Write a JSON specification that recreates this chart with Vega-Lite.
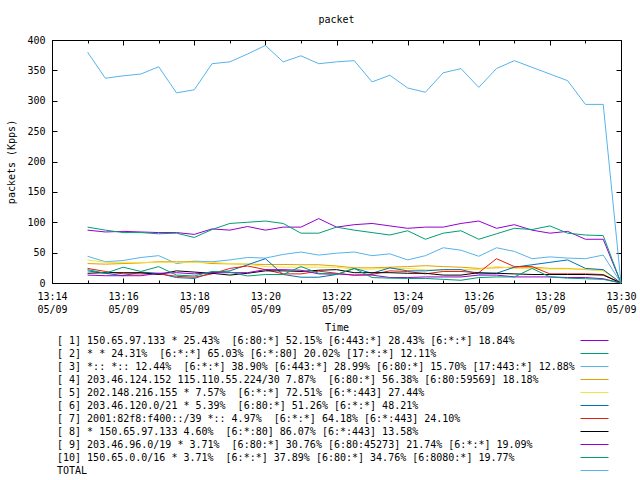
{
  "$schema": "https://vega.github.io/schema/vega-lite/v6.json",
  "width": 569,
  "height": 243,
  "autosize": {"type": "none"},
  "padding": {"left": 52, "top": 40, "right": 19, "bottom": 197},
  "background": "white",
  "config": {
    "font": "DejaVu Sans Mono",
    "view": {"stroke": "black", "strokeWidth": 1},
    "axis": {
      "labelFont": "DejaVu Sans Mono", "labelFontSize": 10, "labelColor": "black",
      "titleFont": "DejaVu Sans Mono", "titleFontSize": 10, "titleFontWeight": "normal", "titleColor": "black",
      "domainColor": "black", "tickColor": "black", "grid": false, "tickSize": -5, "labelPadding": 12
    }
  },
  "title": {"text": "packet", "frame": "group", "anchor": "middle", "offset": 10, "fontSize": 10, "fontWeight": "normal", "font": "DejaVu Sans Mono", "color": "black"},
  "datasets": {
    "d": [
      {"t":"2013-05-09T13:15:00","s1":87,"s2":92,"s3":44,"s4":32,"s5":38,"s6":20,"s7":24,"s8":16,"s9":13,"s10":22,"total":380},
      {"t":"2013-05-09T13:15:30","s1":84,"s2":87,"s3":35,"s4":31,"s5":34,"s6":16,"s7":19,"s8":17,"s9":12,"s10":16,"total":337},
      {"t":"2013-05-09T13:16:00","s1":85,"s2":83,"s3":37,"s4":32,"s5":34,"s6":12,"s7":15,"s8":17,"s9":12,"s10":26,"total":341},
      {"t":"2013-05-09T13:16:30","s1":84,"s2":83,"s3":42,"s4":33,"s5":34,"s6":18,"s7":15,"s8":17,"s9":12,"s10":19,"total":344},
      {"t":"2013-05-09T13:17:00","s1":83,"s2":81,"s3":45,"s4":35,"s5":34,"s6":16,"s7":15,"s8":14,"s9":16,"s10":27,"total":356},
      {"t":"2013-05-09T13:17:30","s1":83,"s2":82,"s3":32,"s4":35,"s5":34,"s6":9,"s7":11,"s8":20,"s9":17,"s10":13,"total":313},
      {"t":"2013-05-09T13:18:00","s1":80,"s2":75,"s3":36,"s4":35,"s5":34,"s6":7.5,"s7":9.5,"s8":18,"s9":15,"s10":11.5,"total":318},
      {"t":"2013-05-09T13:18:30","s1":89,"s2":88,"s3":35,"s4":32,"s5":34,"s6":17,"s7":15,"s8":16,"s9":17,"s10":19,"total":361},
      {"t":"2013-05-09T13:19:00","s1":87,"s2":98,"s3":38,"s4":31.5,"s5":32,"s6":20,"s7":24,"s8":13,"s9":17,"s10":18,"total":364},
      {"t":"2013-05-09T13:19:30","s1":93,"s2":100,"s3":42,"s4":31,"s5":31,"s6":30,"s7":28,"s8":16,"s9":17,"s10":11.5,"total":377},
      {"t":"2013-05-09T13:20:00","s1":87,"s2":102,"s3":41,"s4":30.5,"s5":27,"s6":40,"s7":22,"s8":20,"s9":22,"s10":14,"total":391},
      {"t":"2013-05-09T13:20:30","s1":92,"s2":98,"s3":47,"s4":30.5,"s5":26,"s6":14,"s7":15,"s8":20,"s9":22,"s10":14,"total":364},
      {"t":"2013-05-09T13:21:00","s1":92,"s2":82,"s3":51,"s4":30,"s5":26,"s6":9.5,"s7":15,"s8":19,"s9":21,"s10":27,"total":374},
      {"t":"2013-05-09T13:21:30","s1":106,"s2":82,"s3":46,"s4":30,"s5":26,"s6":9.5,"s7":19.5,"s8":21,"s9":15,"s10":16,"total":361},
      {"t":"2013-05-09T13:22:00","s1":92,"s2":92,"s3":49,"s4":28,"s5":26,"s6":14,"s7":16,"s8":22,"s9":15,"s10":14,"total":364},
      {"t":"2013-05-09T13:22:30","s1":96,"s2":87,"s3":51,"s4":25,"s5":22.5,"s6":24,"s7":13,"s8":17,"s9":13,"s10":24,"total":366},
      {"t":"2013-05-09T13:23:00","s1":98,"s2":83,"s3":45,"s4":25,"s5":23,"s6":16,"s7":14,"s8":17,"s9":13,"s10":9,"total":331},
      {"t":"2013-05-09T13:23:30","s1":94,"s2":79,"s3":48,"s4":26,"s5":24,"s6":25,"s7":20,"s8":17,"s9":9,"s10":8,"total":342},
      {"t":"2013-05-09T13:24:00","s1":90,"s2":86,"s3":38,"s4":27,"s5":24,"s6":20,"s7":19,"s8":16,"s9":9,"s10":7.5,"total":321},
      {"t":"2013-05-09T13:24:30","s1":92,"s2":72,"s3":45,"s4":28.5,"s5":21.5,"s6":20,"s7":15,"s8":16,"s9":10,"s10":7.5,"total":314},
      {"t":"2013-05-09T13:25:00","s1":92,"s2":82,"s3":58,"s4":27,"s5":21.5,"s6":22,"s7":19,"s8":13,"s9":10,"s10":6,"total":346},
      {"t":"2013-05-09T13:25:30","s1":98,"s2":86,"s3":54,"s4":26,"s5":22,"s6":22,"s7":19,"s8":13,"s9":10,"s10":4.5,"total":353},
      {"t":"2013-05-09T13:26:00","s1":102,"s2":72,"s3":44,"s4":24,"s5":22.5,"s6":15,"s7":17,"s8":17,"s9":13,"s10":9,"total":322},
      {"t":"2013-05-09T13:26:30","s1":90,"s2":81,"s3":58,"s4":25,"s5":27,"s6":16,"s7":40,"s8":16,"s9":13,"s10":10,"total":353},
      {"t":"2013-05-09T13:27:00","s1":96,"s2":90,"s3":52,"s4":26,"s5":24,"s6":26,"s7":27,"s8":15,"s9":10,"s10":10,"total":366},
      {"t":"2013-05-09T13:27:30","s1":87,"s2":88,"s3":40,"s4":26,"s5":24,"s6":30,"s7":27,"s8":14,"s9":10,"s10":24,"total":355},
      {"t":"2013-05-09T13:28:00","s1":82,"s2":94,"s3":43,"s4":24,"s5":23,"s6":34,"s7":15,"s8":14,"s9":10,"s10":10,"total":344},
      {"t":"2013-05-09T13:28:30","s1":85,"s2":82,"s3":41,"s4":24,"s5":23,"s6":38,"s7":15,"s8":14,"s9":9,"s10":8,"total":333},
      {"t":"2013-05-09T13:29:00","s1":72,"s2":79,"s3":40,"s4":22,"s5":23,"s6":24,"s7":15,"s8":14,"s9":9,"s10":7,"total":294},
      {"t":"2013-05-09T13:29:30","s1":72,"s2":78,"s3":46,"s4":21,"s5":20,"s6":22,"s7":14,"s8":13,"s9":7,"s10":6,"total":294},
      {"t":"2013-05-09T13:30:00","s1":0,"s2":0,"s3":0,"s4":0,"s5":0,"s6":0,"s7":0,"s8":0,"s9":0,"s10":0,"total":0}
    ],
    "lab": [
      {"key":"s1","label":"[ 1] 150.65.97.133 * 25.43%\u00a0 [6:80:*] 52.15% [6:443:*] 28.43% [6:*:*] 18.84%"},
      {"key":"s2","label":"[ 2] * * 24.31%\u00a0 [6:*:*] 65.03% [6:*:80] 20.02% [17:*:*] 12.11%"},
      {"key":"s3","label":"[ 3] *:: *:: 12.44%\u00a0 [6:*:*] 38.90% [6:443:*] 28.99% [6:80:*] 15.70% [17:443:*] 12.88%"},
      {"key":"s4","label":"[ 4] 203.46.124.152 115.110.55.224/30 7.87%\u00a0 [6:80:*] 56.38% [6:80:59569] 18.18%"},
      {"key":"s5","label":"[ 5] 202.148.216.155 * 7.57%\u00a0 [6:*:*] 72.51% [6:*:443] 27.44%"},
      {"key":"s6","label":"[ 6] 203.46.120.0/21 * 5.39%\u00a0 [6:80:*] 51.26% [6:*:*] 48.21%"},
      {"key":"s7","label":"[ 7] 2001:82f8:f400::/39 *:: 4.97%\u00a0 [6:*:*] 64.18% [6:*:443] 24.10%"},
      {"key":"s8","label":"[ 8] * 150.65.97.133 4.60%\u00a0 [6:*:80] 86.07% [6:*:443] 13.58%"},
      {"key":"s9","label":"[ 9] 203.46.96.0/19 * 3.71%\u00a0 [6:80:*] 30.76% [6:80:45273] 21.74% [6:*:*] 19.09%"},
      {"key":"s10","label":"[10] 150.65.0.0/16 * 3.71%\u00a0 [6:*:*] 37.89% [6:80:*] 34.76% [6:8080:*] 19.77%"},
      {"key":"total","label":"TOTAL"}
    ]
  },
  "data": {"name": "d"},
  "transform": [
    {"fold": ["s1","s2","s3","s4","s5","s6","s7","s8","s9","s10","total"], "as": ["key","v"]},
    {"lookup": "key", "from": {"data": {"name": "lab"}, "key": "key", "fields": ["label"]}}
  ],
  "layer": [
    {
      "mark": {"type": "line", "strokeWidth": 1},
      "encoding": {
        "x": {
          "field": "t", "type": "temporal",
          "scale": {"domain": [{"year":2013,"month":5,"date":9,"hours":13,"minutes":14},{"year":2013,"month":5,"date":9,"hours":13,"minutes":30}], "nice": false},
          "axis": {
            "orient": "bottom", "title": "Time", "titlePadding": 8,
            "values": [
              {"year":2013,"month":5,"date":9,"hours":13,"minutes":14},{"year":2013,"month":5,"date":9,"hours":13,"minutes":15},
              {"year":2013,"month":5,"date":9,"hours":13,"minutes":16},{"year":2013,"month":5,"date":9,"hours":13,"minutes":17},
              {"year":2013,"month":5,"date":9,"hours":13,"minutes":18},{"year":2013,"month":5,"date":9,"hours":13,"minutes":19},
              {"year":2013,"month":5,"date":9,"hours":13,"minutes":20},{"year":2013,"month":5,"date":9,"hours":13,"minutes":21},
              {"year":2013,"month":5,"date":9,"hours":13,"minutes":22},{"year":2013,"month":5,"date":9,"hours":13,"minutes":23},
              {"year":2013,"month":5,"date":9,"hours":13,"minutes":24},{"year":2013,"month":5,"date":9,"hours":13,"minutes":25},
              {"year":2013,"month":5,"date":9,"hours":13,"minutes":26},{"year":2013,"month":5,"date":9,"hours":13,"minutes":27},
              {"year":2013,"month":5,"date":9,"hours":13,"minutes":28},{"year":2013,"month":5,"date":9,"hours":13,"minutes":29},
              {"year":2013,"month":5,"date":9,"hours":13,"minutes":30}
            ],
            "labelExpr": "minutes(datum.value) % 2 == 0 ? [timeFormat(datum.value, '%H:%M'), timeFormat(datum.value, '%m/%d')] : ''",
            "labelBaseline": "top", "labelLineHeight": 13, "labelPadding": 13,
            "labelFlush": false, "labelOverlap": false,
            "tickSize": {"expr": "minutes(datum.value) % 2 == 0 ? -5 : -3"}
          }
        },
        "y": {
          "field": "v", "type": "quantitative",
          "scale": {"domain": [0, 400], "nice": false},
          "axis": {"orient": "left", "title": "packets (Kpps)", "titlePadding": 10, "values": [0,50,100,150,200,250,300,350,400], "labelOverlap": false}
        },
        "color": {
          "field": "label", "type": "nominal",
          "scale": {
            "domain": [
              "[ 1] 150.65.97.133 * 25.43%\u00a0 [6:80:*] 52.15% [6:443:*] 28.43% [6:*:*] 18.84%",
              "[ 2] * * 24.31%\u00a0 [6:*:*] 65.03% [6:*:80] 20.02% [17:*:*] 12.11%",
              "[ 3] *:: *:: 12.44%\u00a0 [6:*:*] 38.90% [6:443:*] 28.99% [6:80:*] 15.70% [17:443:*] 12.88%",
              "[ 4] 203.46.124.152 115.110.55.224/30 7.87%\u00a0 [6:80:*] 56.38% [6:80:59569] 18.18%",
              "[ 5] 202.148.216.155 * 7.57%\u00a0 [6:*:*] 72.51% [6:*:443] 27.44%",
              "[ 6] 203.46.120.0/21 * 5.39%\u00a0 [6:80:*] 51.26% [6:*:*] 48.21%",
              "[ 7] 2001:82f8:f400::/39 *:: 4.97%\u00a0 [6:*:*] 64.18% [6:*:443] 24.10%",
              "[ 8] * 150.65.97.133 4.60%\u00a0 [6:*:80] 86.07% [6:*:443] 13.58%",
              "[ 9] 203.46.96.0/19 * 3.71%\u00a0 [6:80:*] 30.76% [6:80:45273] 21.74% [6:*:*] 19.09%",
              "[10] 150.65.0.0/16 * 3.71%\u00a0 [6:*:*] 37.89% [6:80:*] 34.76% [6:8080:*] 19.77%",
              "TOTAL"
            ],
            "range": ["#9400d3","#009e73","#56b4e9","#e69f00","#f0e442","#0072b2","#e51e10","#000000","#9400d3","#009e73","#56b4e9"]
          },
          "legend": {
            "orient": "none", "legendX": 537, "legendY": 295, "direction": "vertical",
            "title": null, "padding": 0,
            "symbolType": "M-2.8,0H2.8", "symbolSize": 100, "symbolStrokeWidth": 1,
            "labelOffset": -543, "labelLimit": 700, "labelFont": "DejaVu Sans Mono", "labelFontSize": 10, "labelColor": "black",
            "rowPadding": 2
          }
        }
      }
    },
    {
      "mark": {"type": "point", "opacity": 0},
      "encoding": {
        "x": {
          "field": "t", "type": "temporal",
          "axis": {
            "orient": "top", "title": null, "labels": false,
            "values": [
              {"year":2013,"month":5,"date":9,"hours":13,"minutes":14},{"year":2013,"month":5,"date":9,"hours":13,"minutes":15},
              {"year":2013,"month":5,"date":9,"hours":13,"minutes":16},{"year":2013,"month":5,"date":9,"hours":13,"minutes":17},
              {"year":2013,"month":5,"date":9,"hours":13,"minutes":18},{"year":2013,"month":5,"date":9,"hours":13,"minutes":19},
              {"year":2013,"month":5,"date":9,"hours":13,"minutes":20},{"year":2013,"month":5,"date":9,"hours":13,"minutes":21},
              {"year":2013,"month":5,"date":9,"hours":13,"minutes":22},{"year":2013,"month":5,"date":9,"hours":13,"minutes":23},
              {"year":2013,"month":5,"date":9,"hours":13,"minutes":24},{"year":2013,"month":5,"date":9,"hours":13,"minutes":25},
              {"year":2013,"month":5,"date":9,"hours":13,"minutes":26},{"year":2013,"month":5,"date":9,"hours":13,"minutes":27},
              {"year":2013,"month":5,"date":9,"hours":13,"minutes":28},{"year":2013,"month":5,"date":9,"hours":13,"minutes":29},
              {"year":2013,"month":5,"date":9,"hours":13,"minutes":30}
            ],
            "tickSize": {"expr": "minutes(datum.value) % 2 == 0 ? -5 : -3"}
          }
        },
        "y": {
          "field": "v", "type": "quantitative",
          "axis": {"orient": "right", "title": null, "labels": false, "values": [0,50,100,150,200,250,300,350,400]}
        }
      }
    }
  ],
  "resolve": {"axis": {"x": "independent", "y": "independent"}}
}
